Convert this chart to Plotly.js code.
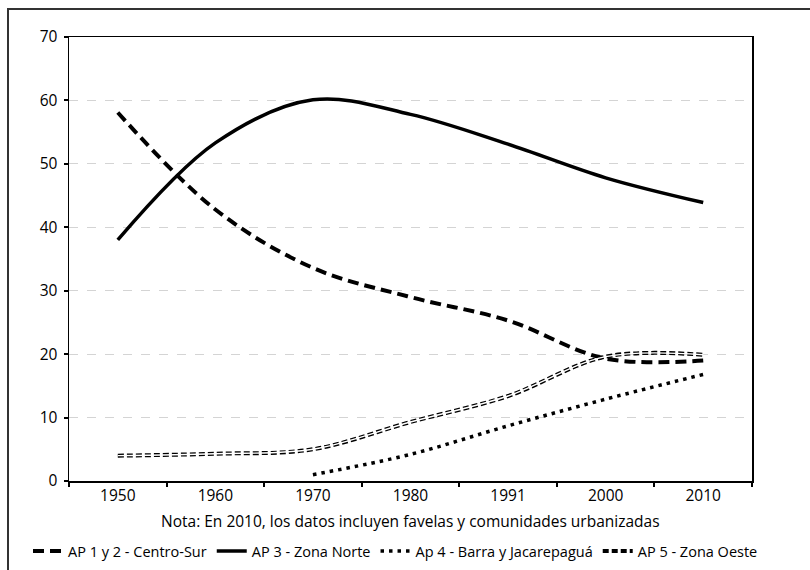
<!DOCTYPE html>
<html>
<head>
<meta charset="utf-8">
<script src="https://cdn.plot.ly/plotly-3.0.1.min.js"></script>
<style>
html,body{margin:0;padding:0;background:#fff;overflow:hidden;width:810px;height:570px;}
#chart{width:810px;height:570px;position:absolute;left:0;top:0;}
#frame{position:absolute;left:7px;top:8px;width:900px;height:700px;border-left:2px solid #333;border-top:2px solid #333;pointer-events:none;}
</style>
</head>
<body>
<div id="chart"></div>
<div id="frame"></div>
<script>
const years = ['1950','1960','1970','1980','1991','2000','2010'];
const centroSur = [58.1, 42.8, 33.6, 29.0, 25.3, 19.3, 19.0];
const zonaNorte = [38.0, 53.3, 60.1, 57.8, 53.1, 47.8, 43.9];
const barraJacarepagua = [null, null, 1.0, 4.2, 8.7, 12.9, 16.8];
const zonaOeste = [4.0, 4.3, 5.0, 9.3, 13.4, 19.6, 19.9];
const seriesNames = ['AP 1 y 2 - Centro-Sur','AP 3 - Zona Norte','Ap 4 - Barra y Jacarepaguá','AP 5 - Zona Oeste'];
const yTicks = [0,10,20,30,40,50,60,70];
const note = 'Nota: En 2010, los datos incluyen favelas y comunidades urbanizadas';

const FONT = 'Open Sans, Lato, DejaVu Sans, sans-serif';

const traces = [
  {x: years, y: centroSur, name: seriesNames[0], mode:'lines', type:'scatter',
   line:{color:'#000', width:4, dash:'11px,6px', shape:'spline', smoothing:1}},
  {x: years, y: zonaNorte, name: seriesNames[1], mode:'lines', type:'scatter',
   line:{color:'#000', width:3.5, shape:'spline', smoothing:1}},
  {x: years, y: barraJacarepagua, name: seriesNames[2], mode:'lines', type:'scatter',
   line:{color:'#000', width:3.5, dash:'3.5px,5px', shape:'spline', smoothing:1}},
  {x: years, y: zonaOeste, name: seriesNames[3], mode:'lines', type:'scatter',
   line:{color:'#000', width:4, dash:'6px,3px', shape:'spline', smoothing:1}},
  {x: years, y: zonaOeste, name: seriesNames[3], mode:'lines', type:'scatter', showlegend:false,
   hoverinfo:'skip', line:{color:'#fff', width:1.4, shape:'spline', smoothing:1}}
];

const layout = {
  width:810, height:570,
  margin:{l:69, r:58, t:37, b:89, autoexpand:false},
  paper_bgcolor:'#fff', plot_bgcolor:'#fff',
  font:{family:FONT, size:15.5, color:'#000'},
  showlegend:true,
  legend:{orientation:'h', x:-0.06, xanchor:'left', y:-0.158, yanchor:'middle',
          font:{family:FONT, size:14.5, color:'#000'}, traceorder:'normal',
          itemwidth:30, bgcolor:'rgba(0,0,0,0)'},
  xaxis:{type:'category', categoryorder:'array', categoryarray: years, range:[-0.5, 6.5],
         showline:true, linecolor:'#000', linewidth:1.5, mirror:true,
         ticks:'outside', tickson:'boundaries', ticklen:4, tickwidth:2, tickcolor:'#000',
         showgrid:false, zeroline:false, tickfont:{family:FONT, size:15.5, color:'#000'}},
  yaxis:{range:[0,70], tickvals: yTicks, showline:true, linecolor:'#000', linewidth:1.5, mirror:true,
         ticks:'outside', ticklen:4, tickwidth:2, tickcolor:'#000', ticklabelstandoff:3,
         showgrid:true, gridcolor:'#d4d4d4', gridwidth:1, griddash:'dash',
         zeroline:false, tickfont:{family:FONT, size:15.5, color:'#000'}},
  annotations:[{text: note, xref:'paper', yref:'paper', x:0.5, y:-0.09, xanchor:'center', yanchor:'middle',
                showarrow:false, font:{family:FONT, size:15.5, color:'#000'}}]
};

Plotly.newPlot('chart', traces, layout, {displayModeBar:false, staticPlot:true});
</script>
</body>
</html>
